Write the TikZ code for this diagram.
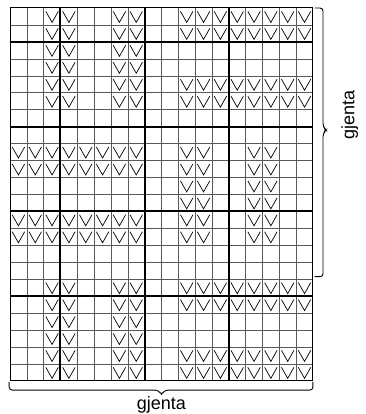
\documentclass[tikz,border=0pt]{standalone}
\usepackage{fontspec}
\setmainfont{Liberation Sans}
\usetikzlibrary{positioning}

\begin{document}
\begin{tikzpicture}[
  x=16.83pt,y=-16.95pt,
  gridline/.style={black!65,line width=0.55pt},
  fiveline/.style={black,line width=2pt},
  stitch/.style={black,line width=0.7pt,line join=miter},
  brace/.style={black,line width=0.9pt,rounded corners=3pt},
  repeatlabel/.style={font=\fontsize{18}{20}\selectfont,inner sep=0pt}
]
\useasboundingbox (-10pt,8pt) rectangle (355pt,-406pt);
% slip stitch: one V in cell (column, row), counted from top left
\newcommand\slipst[2]{\draw[stitch] (#1-0.87,#2-0.8) -- (#1-0.5,#2-0.15) -- (#1-0.13,#2-0.8);}

% chart grid
\foreach \c in {1,...,17} \draw[gridline] (\c,0) -- (\c,22);
\foreach \r in {1,...,21} \draw[gridline] (0,\r) -- (18,\r);
\foreach \c in {3,8,13} \draw[fiveline] (\c,0) -- (\c,22);
\foreach \r in {2,7,12,17} \draw[fiveline] (0,\r) -- (18,\r);
\draw[black,line width=1pt] (0,0) rectangle (18,22);

% top and bottom blocks
\foreach \b in {0,16}{
  \foreach \r in {1,...,6}
    \foreach \c in {3,4,7,8} \slipst{\c}{\r+\b};
  \foreach \r in {1,2,5,6}
    \foreach \c in {11,...,18} \slipst{\c}{\r+\b};
}
% middle block
\foreach \r in {9,10,13,14}
  \foreach \c in {1,...,8} \slipst{\c}{\r};
\foreach \r in {9,...,14}
  \foreach \c in {11,12,15,16} \slipst{\c}{\r};

% repeat braces
\coordinate (stip) at (18.8,7.2);
\coordinate (btip) at (9,22.83);
\draw[brace] (18.1,0) -- (18.6,0) -- (18.6,7.0) -- (stip) -- (18.6,7.4) -- (18.6,15.85) -- (18.1,15.85);
\draw[brace] (-0.05,22.05) -- (-0.05,22.54) -- (8.8,22.54) -- (btip) -- (9.2,22.54) -- (18.0,22.54) -- (18.0,22.05);
\node[repeatlabel,rotate=90,anchor=north] (repside) at (19.67,6.32) {gjenta};
\node[repeatlabel,below=1pt of btip] (repbottom) {gjenta};
\end{tikzpicture}
\end{document}
